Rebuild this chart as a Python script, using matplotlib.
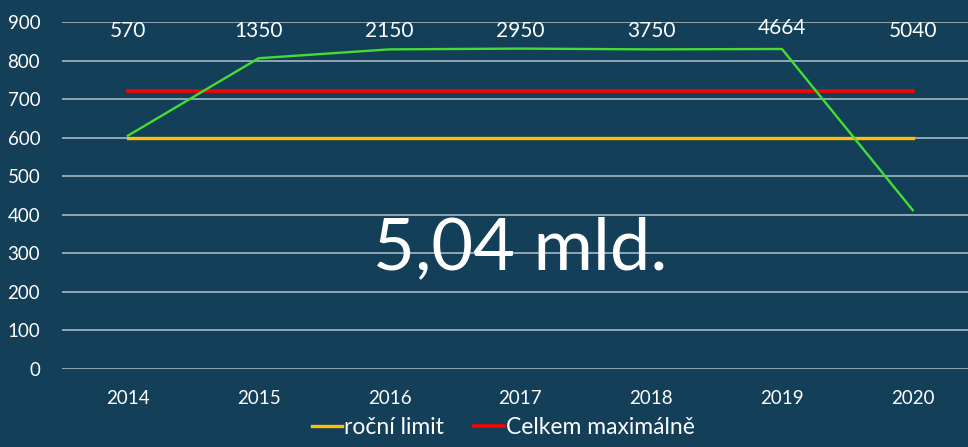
import matplotlib.pyplot as plt

years = ['2014', '2015', '2016', '2017', '2018', '2019', '2020']
green_vals = [605, 806, 829, 831, 829, 830, 412]
rocni_limit = [600] * 7
celkem_max = [720] * 7
top_labels = ['570', '1350', '2150', '2950', '3750', '4664', '5040']
top_label_y = [877, 877, 877, 877, 877, 885, 877]

bg = '#133f59'
plt.rcParams['font.family'] = ['Lato', 'DejaVu Sans']

fig = plt.figure(figsize=(9.68, 4.47), dpi=100, facecolor=bg)
ax = fig.add_axes([0.0645, 0.1745, 0.946, 0.7763], facecolor=bg)

x = range(len(years))
ax.plot(x, rocni_limit, color='#ffc000', lw=2.4, label='roční limit', zorder=3)
ax.plot(x, celkem_max, color='#ff0000', lw=2.6, label='Celkem maximálně', zorder=3)
ax.plot(x, green_vals, color='#44dd33', lw=1.7, zorder=4)

for i, t in enumerate(top_labels):
    ax.text(i, top_label_y[i], t, color='white', fontsize=15, ha='center', va='center', zorder=5)

ax.text(3, 259, '5,04 mld.', color='white', fontsize=52, ha='center', va='baseline', zorder=6)

ax.set_xlim(-0.5, 6.5)
ax.set_ylim(0, 900)
ax.set_yticks(range(0, 901, 100))
ax.set_xticks(list(x))
ax.set_xticklabels(years)
ax.yaxis.grid(True, color='#9aaebb', lw=1.3)
ax.set_axisbelow(True)
ax.tick_params(axis='both', length=0, colors='white', labelsize=13.5)
ax.tick_params(axis='y', pad=16)
ax.tick_params(axis='x', pad=15)
for s in ax.spines.values():
    s.set_visible(False)

leg = fig.legend(loc='lower center', bbox_to_anchor=(0.52, -0.025), ncol=2, frameon=False,
                 handlelength=1.3, handletextpad=0.1, columnspacing=1.3, fontsize=16.5)
for t in leg.get_texts():
    t.set_color('white')

fig.savefig('out.png', dpi=100, facecolor=bg)
